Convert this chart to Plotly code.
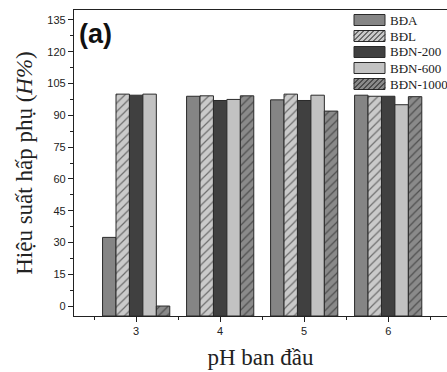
import plotly.graph_objects as go

ph = [3, 4, 5, 6]
series_names = ["BĐA", "BĐL", "BĐN-200", "BĐN-600", "BĐN-1000"]
bda = [32.4, 99.0, 97.3, 99.5]
bdl = [100.0, 99.2, 100.0, 99.0]
bdn200 = [99.5, 97.0, 97.0, 99.0]
bdn600 = [100.0, 97.5, 99.5, 95.0]
bdn1000 = [0.0, 99.2, 92.0, 98.8]
y_ticks = [0, 15, 30, 45, 60, 75, 90, 105, 120, 135]

Y_MIN, Y_MAX = -4.7, 139.7

styles = [
    dict(color="#858585", pattern=False),
    dict(color="#cacaca", pattern=True),
    dict(color="#404040", pattern=False),
    dict(color="#c2c2c2", pattern=False),
    dict(color="#8a8a8a", pattern=True),
]
EDGE = "#2a2a2a"

fig = go.Figure()
for name, vals, st in zip(series_names, [bda, bdl, bdn200, bdn600, bdn1000], styles):
    marker = dict(color=st["color"], line=dict(color=EDGE, width=1))
    if st["pattern"]:
        marker["pattern"] = dict(shape="/", fgcolor="#111111", fillmode="overlay", size=6, solidity=0.2)
    fig.add_trace(go.Bar(
        x=ph, y=[v - Y_MIN for v in vals], base=Y_MIN, name=name, marker=marker,
    ))

# ---- manual legend (page-pixel layout converted to paper coords) ----
L, T, W, H = 74, 10, 373, 306
def px(x):
    return (x - L) / W
def py(y):
    return (T + H - y) / H

shapes = []
annotations = []
box_x0, box_x1 = 354, 385
row_h = 16
for i, (name, st) in enumerate(zip(series_names, styles)):
    cy = 20 + i * row_h
    y0, y1 = cy - 5.5, cy + 5.5
    shapes.append(dict(type="rect", xref="paper", yref="paper",
                       x0=px(box_x0), x1=px(box_x1), y0=py(y1), y1=py(y0),
                       fillcolor=st["color"], line=dict(color=EDGE, width=1)))
    if st["pattern"]:
        hgt = y1 - y0
        k = box_x0 - hgt
        while k < box_x1:
            xa, ya = k, y1
            xb, yb = k + hgt, y0
            if xa < box_x0:
                ya = y1 - (box_x0 - xa)
                xa = box_x0
            if xb > box_x1:
                yb = y0 + (xb - box_x1)
                xb = box_x1
            if xb > xa:
                shapes.append(dict(type="line", xref="paper", yref="paper",
                                   x0=px(xa), y0=py(ya), x1=px(xb), y1=py(yb),
                                   line=dict(color="#111111", width=1)))
            k += 5
    annotations.append(dict(text=name, x=px(388), y=py(cy), xref="paper", yref="paper",
                            xanchor="left", yanchor="middle", showarrow=False,
                            font=dict(family="Liberation Serif", size=13, color="#222")))

annotations.append(dict(
    text="<b>(a)</b>", x=px(77), y=py(17), xref="paper", yref="paper",
    xanchor="left", yanchor="top", showarrow=False,
    font=dict(family="Liberation Sans", size=27, color="#111"),
))

fig.update_layout(
    width=447, height=372,
    margin=dict(l=74, r=0, t=10, b=56),
    paper_bgcolor="white", plot_bgcolor="white",
    barmode="group", bargap=0.2, bargroupgap=0,
    showlegend=False,
    xaxis=dict(
        range=[2.26, 6.70], tickvals=ph, ticktext=[str(p) for p in ph],
        showgrid=False, zeroline=False,
        showline=True, linecolor="#222", linewidth=1.2, mirror=True,
        ticks="outside", ticklen=5, tickcolor="#222",
        minor=dict(tickvals=[2.5, 3.5, 4.5, 5.5, 6.5], ticks="outside", ticklen=3, tickcolor="#222"),
        tickfont=dict(family="Liberation Sans", size=11, color="#222"),
        title=dict(text="pH ban đầu", font=dict(family="Liberation Serif", size=23, color="#222"), standoff=12),
    ),
    yaxis=dict(
        range=[Y_MIN, Y_MAX], tickvals=y_ticks, ticktext=[str(t) for t in y_ticks],
        showgrid=False, zeroline=False,
        showline=True, linecolor="#222", linewidth=1.2, mirror=False,
        ticks="outside", ticklen=5, tickcolor="#222",
        minor=dict(tickvals=[7.5 + 15 * i for i in range(9)], ticks="outside", ticklen=3, tickcolor="#222"),
        tickfont=dict(family="Liberation Sans", size=11, color="#222"),
        title=dict(text="Hiệu suất hấp phụ (<i>H%</i>)", font=dict(family="Liberation Serif", size=23, color="#222"), standoff=8),
    ),
    shapes=shapes,
    annotations=annotations,
)

fig.write_html("out.html")
